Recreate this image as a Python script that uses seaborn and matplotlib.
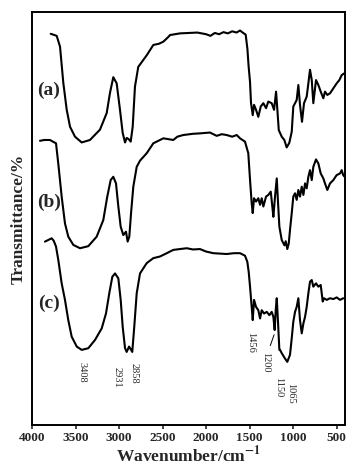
import matplotlib
matplotlib.use("Agg")
import matplotlib.pyplot as plt
import numpy as np
import pandas as pd
import seaborn as sns

# spectra (wavenumber in cm-1, transmittance in arbitrary units)
wn_a = [3785, 3716, 3678, 3640, 3601, 3563, 3506, 3429, 3334, 3219, 3142, 3104,
        3066, 3027, 2989, 2958, 2931, 2912, 2889, 2866, 2843, 2817, 2779, 2682,
        2606, 2540, 2491, 2440, 2414, 2300, 2200, 2100, 2000, 1950, 1900, 1850,
        1800, 1750, 1700, 1650, 1610, 1580, 1545, 1525, 1512, 1495, 1484, 1464,
        1449, 1426, 1400, 1372, 1342, 1311, 1285, 1246, 1219, 1196, 1181, 1165,
        1131, 1101, 1074, 1044, 1016, 998, 978, 959, 940, 921, 898, 875, 844,
        825, 806, 786, 768, 737, 710, 683, 653, 634, 607, 576, 538, 500, 469,
        442, 415]
t_a = [94.7, 94.2, 91.6, 82.8, 76.3, 72.2, 69.8, 68.4, 69.0, 71.5, 75.5, 80.4,
       84.2, 82.7, 76.3, 70.7, 68.4, 69.5, 69.2, 68.6, 72.2, 81.9, 86.7, 89.5,
       92.0, 92.3, 92.8, 93.8, 94.4, 94.8, 94.9, 95.0, 94.6, 94.2, 94.9, 94.6,
       95.1, 94.8, 95.3, 95.0, 95.5, 95.0, 94.5, 91.0, 87.0, 83.0, 78.0, 75.0,
       77.5, 76.3, 74.6, 77.1, 77.9, 76.7, 78.3, 77.9, 76.3, 80.7, 76.3, 71.4,
       69.8, 69.0, 67.2, 68.3, 71.0, 77.1, 77.9, 78.7, 82.3, 77.5, 73.4, 77.9,
       79.5, 82.7, 86.0, 83.5, 77.9, 83.5, 82.3, 80.7, 79.1, 80.7, 79.9, 80.3,
       81.5, 82.7, 83.5, 84.7, 85.1]

wn_b = [3908, 3860, 3793, 3760, 3724, 3698, 3659, 3621, 3583, 3525, 3448, 3353,
        3257, 3181, 3135, 3096, 3066, 3035, 3008, 2981, 2951, 2920, 2901, 2882,
        2862, 2836, 2797, 2759, 2682, 2606, 2491, 2376, 2330, 2262, 2150, 2070,
        1955, 1878, 1820, 1763, 1700, 1648, 1610, 1553, 1526, 1515, 1495, 1476,
        1464, 1449, 1426, 1400, 1380, 1361, 1342, 1311, 1285, 1257, 1239, 1227,
        1208, 1188, 1173, 1158, 1131, 1100, 1085, 1067, 1050, 1036, 1016, 998,
        978, 959, 940, 921, 901, 882, 863, 844, 825, 806, 786, 768, 737, 710,
        683, 653, 634, 607, 576, 538, 500, 461, 442, 425, 408]
t_b = [68.8, 69.0, 69.0, 68.6, 68.2, 63.3, 55.3, 48.8, 45.6, 43.6, 42.8, 43.3,
       45.6, 49.6, 55.3, 59.3, 60.1, 58.5, 52.9, 48.0, 46.0, 46.8, 44.4, 45.6,
       51.3, 57.7, 62.5, 64.0, 65.8, 68.2, 69.4, 69.0, 69.8, 70.2, 70.5, 70.6,
       70.8, 70.0, 70.4, 70.2, 69.8, 70.2, 69.4, 68.6, 66.6, 65.8, 59.3, 53.7,
       51.3, 54.9, 54.1, 54.9, 53.3, 54.9, 52.9, 55.3, 55.7, 56.5, 52.9, 50.4,
       55.3, 59.7, 53.7, 48.0, 44.8, 43.5, 44.5, 42.6, 44.0, 47.2, 51.3, 55.3,
       56.1, 54.5, 56.9, 55.3, 57.7, 55.7, 58.5, 57.3, 60.1, 61.7, 59.3, 62.5,
       64.3, 63.3, 60.9, 59.7, 58.5, 56.9, 58.5, 59.3, 60.5, 60.9, 61.7, 60.5,
       60.1]

wn_c = [3851, 3813, 3774, 3750, 3724, 3698, 3659, 3621, 3583, 3544, 3486, 3429,
        3353, 3276, 3199, 3150, 3112, 3077, 3046, 3008, 2981, 2958, 2931, 2912,
        2885, 2862, 2848, 2825, 2797, 2759, 2682, 2606, 2529, 2452, 2376, 2300,
        2222, 2150, 2070, 2000, 1917, 1840, 1763, 1680, 1610, 1553, 1526, 1510,
        1495, 1476, 1464, 1449, 1426, 1400, 1380, 1361, 1334, 1303, 1273, 1246,
        1227, 1212, 1200, 1188, 1173, 1158, 1150, 1131, 1093, 1067, 1036, 1016,
        998, 978, 959, 940, 921, 901, 882, 863, 844, 825, 806, 786, 768, 737,
        710, 683, 660, 645, 614, 576, 538, 500, 461, 423]
t_c = [44.4, 44.8, 45.2, 44.6, 43.2, 40.0, 34.3, 30.3, 25.4, 21.4, 19.0, 18.2,
       18.6, 20.6, 23.4, 27.0, 31.9, 35.9, 36.7, 35.5, 30.3, 23.8, 18.6, 17.7,
       19.0, 18.2, 17.7, 23.8, 31.9, 36.7, 39.2, 40.4, 40.8, 41.6, 42.4, 42.6,
       42.8, 42.5, 42.6, 42.0, 41.6, 41.5, 41.4, 41.6, 41.6, 41.0, 39.5, 37.0,
       33.5, 28.6, 25.4, 30.3, 28.6, 27.8, 25.8, 27.8, 27.0, 27.4, 26.6, 27.4,
       26.2, 23.0, 27.8, 30.7, 24.6, 18.2, 18.2, 17.4, 16.1, 15.3, 17.0, 21.0,
       25.0, 27.4, 28.6, 30.7, 25.4, 22.2, 24.6, 26.2, 28.6, 31.9, 34.7, 35.1,
       33.5, 34.3, 33.5, 33.9, 29.9, 30.7, 30.3, 30.7, 30.5, 30.9, 30.3, 30.7]

sample_names = ["(a)", "(b)", "(c)"]
sample_label_wn = [3805, 3805, 3805]
sample_label_t = [81.1, 53.8, 29.5]

peak_texts = ["3408", "2931", "2858", "1456", "1200", "1150", "1065"]
peak_text_wn = [3431, 3018, 2828, 1486, 1311, 1170, 1030]
peak_text_t = [12.8, 11.6, 12.6, 19.9, 15.3, 9.2, 7.7]

# leader line from the "1200" label to the band
lead_from = (1273, 18.6)
lead_to = (1208, 22.5)

xticks = [4000, 3500, 3000, 2500, 2000, 1500, 1000, 500]

frames = []
for name, w, t in zip(sample_names, [wn_a, wn_b, wn_c], [t_a, t_b, t_c]):
    frames.append(pd.DataFrame({"wn": w, "T": t, "sample": name}))
df = pd.concat(frames, ignore_index=True)

sns.set_style("ticks")
plt.rcParams["font.family"] = ["Liberation Serif", "DejaVu Serif"]
plt.rcParams["mathtext.fontset"] = "stix"

fig = plt.figure(figsize=(3.57, 4.76), dpi=100)
ax = fig.add_axes([0.0896, 0.107, 0.8768, 0.868])

sns.lineplot(data=df, x="wn", y="T", units="sample", estimator=None,
             sort=False, color="black", linewidth=1.5, ax=ax, legend=False)

for name, x, y in zip(sample_names, sample_label_wn, sample_label_t):
    ax.text(x, y, name, ha="center", va="center", fontsize=14,
            fontweight="bold")

for s, x, y in zip(peak_texts, peak_text_wn, peak_text_t):
    ax.text(x, y, s, ha="center", va="center", rotation=-90, fontsize=7.5)

ax.annotate("", xy=lead_to, xytext=lead_from,
            arrowprops=dict(arrowstyle="-", color="black", lw=0.7))

ax.set_xlim(4000, 404)
ax.set_ylim(0, 100)
ax.set_xticks(xticks)
ax.set_xticklabels([str(v) for v in xticks], fontsize=9.5, fontweight="bold")
ax.set_yticks([])
ax.tick_params(axis="x", direction="out", length=3, width=1.2, pad=2)
for sp in ax.spines.values():
    sp.set_linewidth(1.4)
    sp.set_color("black")

ax.set_xlabel("Wavenumber/cm$^{\\mathbf{-1}}$", fontsize=12.5, fontweight="bold",
              labelpad=1)
ax.set_ylabel("Transmittance/%", fontsize=12.5, fontweight="bold", labelpad=4)

fig.savefig("out.png", dpi=100)
